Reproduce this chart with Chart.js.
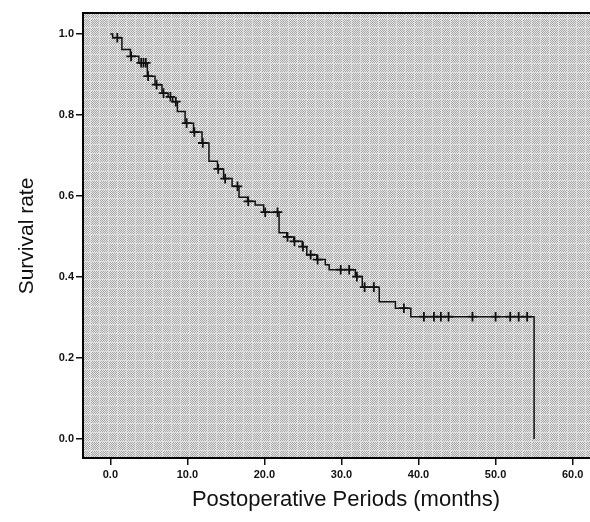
<!DOCTYPE html>
<html><head><meta charset="utf-8">
<script src="https://cdn.jsdelivr.net/npm/chart.js@4.4.0/dist/chart.umd.min.js"></script>
<style>html,body{margin:0;padding:0;background:#fff;}#wrap{width:590px;height:522px;}</style>
</head><body><div id="wrap"><canvas id="c" width="590" height="522"></canvas></div>
<script>
// Kaplan-Meier steps: time of drop and survival level after the drop
const stepTimes = [0, 0.3, 1.5, 2.6, 3.7, 4.8, 5.8, 6.7, 7.5, 8.1, 8.7, 9.7, 10.8, 11.9, 12.8, 13.9, 14.7, 15.8, 16.7, 17.8, 18.8, 19.9, 21.9, 22.9, 23.8, 24.9, 25.5, 26.8, 27.9, 28.4, 31.8, 32.7, 34.9, 37.0, 39.0, 55.0];
const survival  = [1.0, 0.991, 0.962, 0.945, 0.929, 0.896, 0.875, 0.854, 0.845, 0.833, 0.809, 0.780, 0.758, 0.731, 0.686, 0.667, 0.643, 0.624, 0.597, 0.587, 0.578, 0.560, 0.509, 0.499, 0.488, 0.475, 0.455, 0.443, 0.430, 0.418, 0.401, 0.375, 0.339, 0.323, 0.302, 0.0];
// censored observations (times)
const censorTimes = [0.9, 2.7, 4.0, 4.3, 4.6, 4.9, 6.0, 6.9, 7.8, 8.5, 9.9, 10.9, 12.0, 14.0, 14.9, 16.5, 17.9, 20.1, 21.7, 23.0, 23.9, 25.0, 26.0, 26.9, 29.9, 31.0, 32.0, 33.0, 34.2, 38.1, 40.7, 42.0, 42.9, 43.9, 47.0, 50.0, 51.9, 53.0, 54.1];
const xTicks = [0, 10, 20, 30, 40, 50, 60];
const yTicks = [0, 0.2, 0.4, 0.6, 0.8, 1.0];
const xTitle = 'Postoperative Periods (months)';
const yTitle = 'Survival rate';

function survAt(t) {
  let s = survival[0];
  for (let i = 0; i < stepTimes.length; i++) { if (stepTimes[i] <= t) s = survival[i]; }
  return s;
}

let patternCache = null;
function makePattern(ctx) {
  if (patternCache) return patternCache;
  const c = document.createElement('canvas');
  c.width = 9; c.height = 9;
  const g = c.getContext('2d');
  for (let y = 0; y < 9; y++) {
    for (let x = 0; x < 9; x++) {
      let col;
      if (x === 0 || y === 0) col = '#dedede';
      else col = ((x + y) % 2) ? '#a8a8a8' : '#e4e4e4';
      g.fillStyle = col;
      g.fillRect(x, y, 1, 1);
    }
  }
  patternCache = ctx.createPattern(c, 'repeat');
  return patternCache;
}

const bgPlugin = {
  id: 'bg',
  beforeDraw(chart) {
    const { ctx, chartArea: a } = chart;
    ctx.save();
    ctx.fillStyle = makePattern(ctx);
    ctx.fillRect(a.left, a.top, chart.width - a.left, a.bottom - a.top);
    ctx.restore();
  },
  afterDraw(chart) {
    const { ctx, chartArea: a } = chart;
    ctx.save();
    ctx.strokeStyle = '#000';
    ctx.lineWidth = 2;
    ctx.beginPath();
    ctx.moveTo(a.left, a.top);
    ctx.lineTo(chart.width, a.top);
    ctx.moveTo(a.right - 1, a.bottom);
    ctx.lineTo(chart.width, a.bottom);
    ctx.stroke();
    ctx.fillStyle = '#111';
    ctx.textAlign = 'center';
    ctx.textBaseline = 'middle';
    ctx.font = '21px "Liberation Sans", Arial, sans-serif';
    ctx.translate(27, 236);
    ctx.rotate(-Math.PI / 2);
    ctx.fillText(yTitle, 0, 0);
    ctx.restore();
    ctx.save();
    ctx.fillStyle = '#111';
    ctx.textAlign = 'center';
    ctx.textBaseline = 'middle';
    ctx.font = '22px "Liberation Sans", Arial, sans-serif';
    ctx.fillText(xTitle, 346, 500);
    ctx.restore();
  }
};

const tickFont = { family: '"Liberation Sans", Arial, sans-serif', size: 11, weight: 'bold' };

new Chart(document.getElementById('c'), {
  type: 'scatter',
  data: {
    datasets: [
      {
        data: stepTimes.map((t, i) => ({ x: t, y: survival[i] })),
        showLine: true,
        stepped: 'before',
        borderColor: '#111',
        borderWidth: 1.5,
        pointRadius: 0,
        fill: false
      },
      {
        data: censorTimes.map(t => ({ x: t, y: survAt(t) })),
        showLine: false,
        pointStyle: 'cross',
        pointRadius: 4.8,
        borderColor: '#111',
        borderWidth: 1.8
      }
    ]
  },
  options: {
    responsive: false,
    animation: false,
    devicePixelRatio: 1,
    layout: { padding: { top: 13, left: 0, right: 0, bottom: 0 } },
    plugins: { legend: { display: false }, tooltip: { enabled: false } },
    scales: {
      x: {
        type: 'linear', min: -3.55, max: 61.4,
        afterBuildTicks: s => { s.ticks = xTicks.map(v => ({ value: v })); },
        afterFit: s => { s.height = 64; },
        ticks: { callback: v => Number(v).toFixed(1), font: tickFont, color: '#111', padding: 3, maxRotation: 0, autoSkip: false },
        grid: { drawOnChartArea: false, drawTicks: true, tickLength: 7, color: '#111', lineWidth: 1.5 },
        border: { display: true, color: '#000', width: 2 }
      },
      y: {
        type: 'linear', min: -0.047, max: 1.052,
        afterBuildTicks: s => { s.ticks = yTicks.map(v => ({ value: v })); },
        afterFit: s => { s.width = 83; },
        ticks: { callback: v => Number(v).toFixed(1), font: tickFont, color: '#111', padding: 2, autoSkip: false },
        grid: { drawOnChartArea: false, drawTicks: true, tickLength: 7, color: '#111', lineWidth: 1.5 },
        border: { display: true, color: '#000', width: 2 }
      }
    }
  },
  plugins: [bgPlugin]
});
</script></body></html>
